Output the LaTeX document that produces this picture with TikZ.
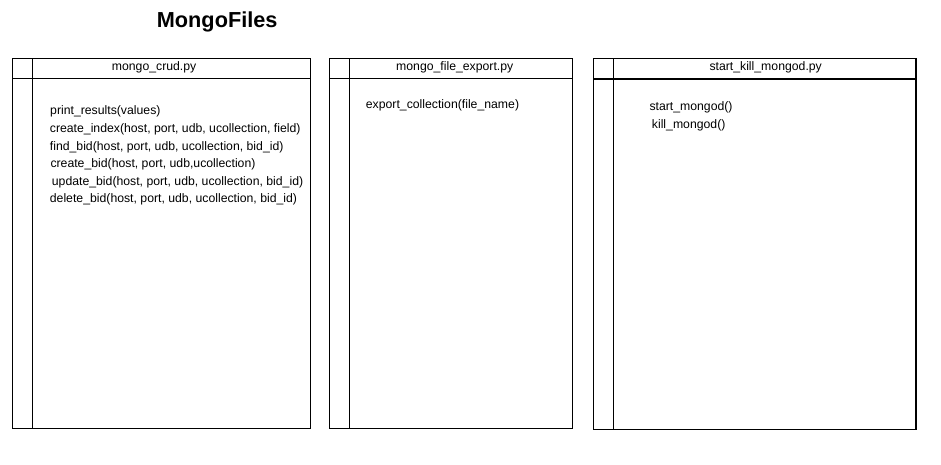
\documentclass[tikz,border=0pt]{standalone}
\usepackage{fontspec}
\setmainfont{Liberation Sans}
\usepackage{tikz}

\begin{document}
\begin{tikzpicture}[x=1pt,y=-1pt,
  frame/.style={line width=1.1pt},
  func/.style={anchor=base west,inner sep=0pt,font=\fontsize{12.25}{14}\selectfont}]
\useasboundingbox (0,0) rectangle (941,465);
\node[anchor=base west,inner sep=0pt,font=\fontsize{21.7}{25}\selectfont\bfseries] (title) at (156.7,28) {MongoFiles};

% mongo_crud.py
\draw[frame] (12.7,58.7) rectangle (310.7,428.3);
\draw[frame] (12.7,78.5) -- (310.7,78.5);
\draw[frame] (32.3,58.7) -- (32.3,428.3);
\node[func] (crud) at (111.7,71) {mongo\_crud.py};
\node[func] (printres) at (50,115) {print\_results(values)};
\node[func] (mkindex) at (49.7,132.3) {create\_index(host, port, udb, ucollection, field)};
\node[func] (findbid) at (49.7,150) {find\_bid(host, port, udb, ucollection, bid\_id)};
\node[func] (mkbid) at (50.3,167.7) {create\_bid(host, port, udb,ucollection)};
\node[func] (updbid) at (51.7,185) {update\_bid(host, port, udb, ucollection, bid\_id)};
\node[func] (delbid) at (49.7,202.3) {delete\_bid(host, port, udb, ucollection, bid\_id)};

% mongo_file_export.py
\draw[frame] (329.3,58.7) rectangle (572.3,428.3);
\draw[frame] (329.3,78.7) -- (572.3,78.7);
\draw[line width=0.8pt] (349.3,58.7) -- (349.3,428.3);
\node[func] (export) at (396,70.7) {mongo\_file\_export.py};
\node[func] (expcoll) at (365.7,108.3) {export\_collection(file\_name)};

% start_kill_mongod.py
\draw[frame] (593.3,58.3) rectangle (916,429.3);
\draw[frame] (593.3,79) -- (916,79);
\draw[frame] (613.3,58.3) -- (613.3,429.3);
\node[func] (startkill) at (709.3,70.7) {start\_kill\_mongod.py};
\node[func] (startmd) at (649.3,110.7) {start\_mongod()};
\node[func] (killmd) at (651.7,128.3) {kill\_mongod()};
\end{tikzpicture}
\end{document}
